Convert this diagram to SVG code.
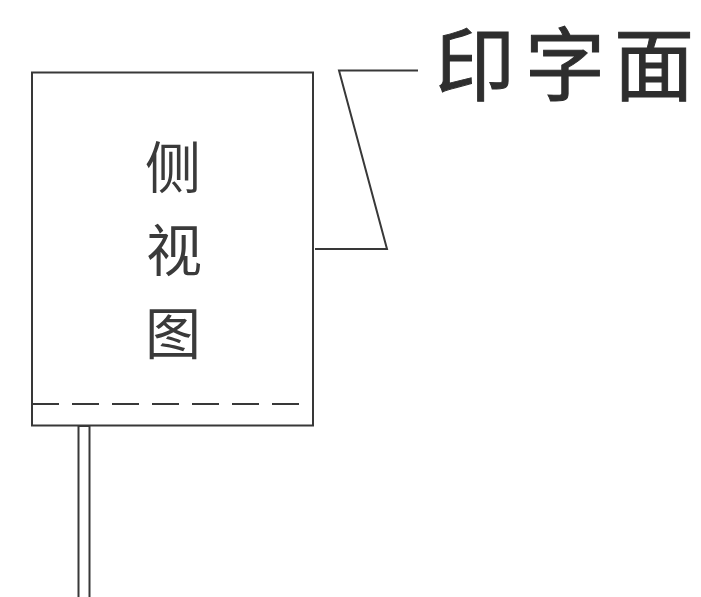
<svg xmlns="http://www.w3.org/2000/svg" width="701" height="597" viewBox="0 0 701 597">
<style>
.l{fill:none;stroke:#383838;stroke-width:2}
.t{font-family:"Noto Sans CJK SC","Noto Sans CJK JP",sans-serif;fill:#2e2e2e;font-weight:400}
.s{text-anchor:middle;font-size:56px;fill:#3a3a3a}
.b{font-size:80px;stroke:#2e2e2e;stroke-width:1}
</style>
<rect width="701" height="597" fill="#fff"/>
<g id="node-body">
<rect class="l" x="32" y="72.500" width="281" height="353"/>
<line class="l" x1="32" y1="404" x2="300" y2="404" stroke-dasharray="27 13"/>
<text class="t s" x="173" y="188">侧</text>
<text class="t s" x="174" y="271">视</text>
<text class="t s" x="173" y="354">图</text>
</g>
<g id="node-stem">
<rect class="l" x="78.500" y="426" width="11" height="173"/>
</g>
<g id="connectors">
<polyline class="l" points="418,70.500 339,70.500 387,249 315,249"/>
</g>
<g id="node-label">
<text class="t b" x="435 525 614" y="94">印字面</text>
</g>
</svg>
